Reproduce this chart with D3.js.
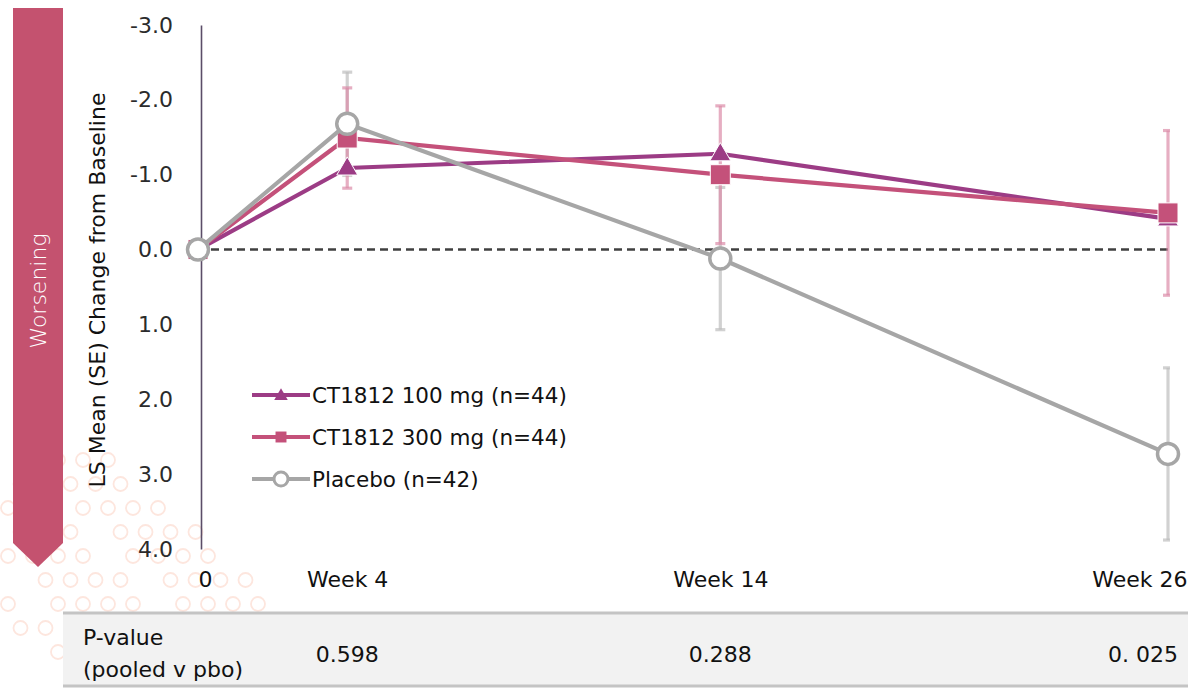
<!DOCTYPE html>
<html>
<head>
<meta charset="utf-8">
<script src="https://cdn.jsdelivr.net/npm/d3@7"></script>
<style>
  html, body { margin: 0; padding: 0; background: #fff; }
  svg { display: block; font-family: "DejaVu Sans", "Liberation Sans", sans-serif; }
</style>
</head>
<body>
<div id="chart"></div>
<script>
const weeks = [0, 4, 14, 26];
const weekLabels = ["0", "Week 4", "Week 14", "Week 26"];
const yTicks = [-3, -2, -1, 0, 1, 2, 3, 4];

const seriesNames = ["CT1812 100 mg (n=44)", "CT1812 300 mg (n=44)", "Placebo (n=42)"];
const mean100 = [0, -1.09, -1.28, -0.41];
const mean300 = [0, -1.49, -1.0, -0.49];
const meanPbo = [0, -1.68, 0.12, 2.73];
const se300 = [0, 0.67, 0.92, 1.1];
const sePbo = [0, 0.69, 0.95, 1.15];

const pValues = ["0.598", "0.288", "0. 025"];

const width = 1188, height = 688;
const purple = "#9c3c85", pink = "#c4517a", gray = "#a6a6a6";
const FONT = '"DejaVu Sans", "Liberation Sans", sans-serif';

const svg = d3.select("#chart").append("svg")
  .attr("width", width).attr("height", height);

// decorative ring pattern, bottom left
const deco = svg.append("g").attr("fill", "none").attr("stroke", "#fde6de").attr("stroke-width", 1.8);
for (let r = 0; r < 10; r++) {
  for (let c = 0; c < 12; c++) {
    const cx = 8 + c * 25 + (r % 2) * 12.5;
    const cy = 460 + r * 24;
    const d = cx - (cy - 460) * 1.3;   // position across the diagonal band
    if (cy > 690 || cx > 270 || d < -200 || d > 110) continue;
    if ((r * 7 + c * 3) % 5 === 0) continue;   // thin the grid out a little
    deco.append("circle").attr("cx", cx).attr("cy", cy).attr("r", 7);
  }
}

// Worsening arrow
svg.append("path")
  .attr("d", "M13,8 H63 V543 L38,567 L13,543 Z")
  .attr("fill", "#c4526f");
svg.append("text")
  .attr("transform", "translate(46,291) rotate(-90)")
  .attr("text-anchor", "middle")
  .attr("fill", "#fff")
  .style("font-size", "22px")
  .style("font-weight", 200)
  .text("Worsening");

const x = d3.scaleLinear().domain([0, 26]).range([198, 1168]);
const y = d3.scaleLinear().domain([-3, 4]).range([25, 549]);

// y axis
const yAxis = svg.append("g")
  .attr("transform", "translate(201,0)")
  .call(d3.axisLeft(y).tickValues(yTicks).tickSize(0).tickPadding(28)
    .tickFormat(d => d.toFixed(1)));
yAxis.select(".domain").attr("stroke", "#5b4d68").attr("stroke-width", 1.6);
yAxis.selectAll("text").attr("fill", "#2b2b2b").style("font-size", "22px")
  .style("font-family", FONT);

svg.append("text")
  .attr("transform", "translate(105,290) rotate(-90)")
  .attr("text-anchor", "middle")
  .attr("fill", "#111")
  .style("font-size", "22px")
  .text("LS Mean (SE) Change from Baseline");

// x axis labels
const xAxis = svg.append("g")
  .attr("transform", "translate(0,566)")
  .call(d3.axisBottom(x).tickValues(weeks).tickSize(0).tickPadding(5)
    .tickFormat((d, i) => weekLabels[i]));
xAxis.select(".domain").remove();
xAxis.selectAll("text").attr("fill", "#111").style("font-size", "22px")
  .style("font-family", FONT);
xAxis.selectAll(".tick").filter(d => d === 0).select("text").attr("x", 7);
xAxis.selectAll(".tick").filter(d => d === 26).select("text")
  .attr("text-anchor", "end").attr("x", 19);

// zero reference line
svg.append("line")
  .attr("x1", x(0)).attr("x2", x(26))
  .attr("y1", y(0)).attr("y2", y(0))
  .attr("stroke", "#404040").attr("stroke-width", 2.6)
  .attr("stroke-dasharray", "8,5");

// error bars, clipped at the plot edge
svg.append("clipPath").attr("id", "plotclip")
  .append("rect").attr("x", 150).attr("y", 0).attr("width", 1170 - 150).attr("height", 600);
const eb = svg.append("g").attr("clip-path", "url(#plotclip)");

function errorBars(means, ses, color) {
  const rows = weeks.map((w, i) => ({ w, m: means[i], s: ses[i] })).filter(d => d.s > 0);
  const g = eb.append("g").attr("stroke", color).attr("stroke-width", 3.2);
  g.selectAll("line.v").data(rows).join("line")
    .attr("x1", d => x(d.w)).attr("x2", d => x(d.w))
    .attr("y1", d => y(d.m - d.s)).attr("y2", d => y(d.m + d.s));
  ["-", "+"].forEach(sign => {
    g.selectAll("line.c" + (sign === "-" ? "a" : "b")).data(rows).join("line")
      .attr("x1", d => x(d.w) - 5).attr("x2", d => x(d.w) + 5)
      .attr("y1", d => y(sign === "-" ? d.m - d.s : d.m + d.s))
      .attr("y2", d => y(sign === "-" ? d.m - d.s : d.m + d.s));
  });
}
errorBars(meanPbo, sePbo, "rgba(190,190,190,0.7)");
errorBars(mean300, se300, "rgba(220,140,168,0.7)");

const line = d3.line().x((d, i) => x(weeks[i])).y(d => y(d));

const triangle = d3.symbol().type(d3.symbolTriangle);
const square = d3.symbol().type(d3.symbolSquare);

function drawSeries(means, color, marker) {
  svg.append("path").datum(means)
    .attr("d", line).attr("fill", "none")
    .attr("stroke", color).attr("stroke-width", 4.2);
  const pts = svg.append("g").selectAll("g").data(means).join("g")
    .attr("transform", (d, i) => `translate(${x(weeks[i])},${y(d)})`);
  marker(pts);
}

drawSeries(mean100, purple, g => g.append("path")
  .attr("d", triangle.size(190)()).attr("transform", "translate(0,1)")
  .attr("fill", purple).attr("stroke", "#fff").attr("stroke-width", 1));
drawSeries(mean300, pink, g => g.append("path")
  .attr("d", square.size(400)())
  .attr("fill", pink).attr("stroke", "#fff").attr("stroke-width", 1));
drawSeries(meanPbo, gray, g => g.append("circle")
  .attr("r", 10.5).attr("fill", "#fff").attr("stroke", gray).attr("stroke-width", 3.5));

// legend
const legend = svg.append("g").attr("transform", "translate(252,395)");
const legendColors = [purple, pink, gray];
seriesNames.forEach((name, i) => {
  const row = legend.append("g").attr("transform", `translate(0,${i * 42})`);
  row.append("line").attr("x1", 0).attr("x2", 58).attr("stroke", legendColors[i])
    .attr("stroke-width", 4.2);
  if (i === 0) {
    row.append("path").attr("d", d3.symbol().type(d3.symbolTriangle).size(80)())
      .attr("transform", "translate(29,1)").attr("fill", purple);
  } else if (i === 1) {
    row.append("path").attr("d", d3.symbol().type(d3.symbolSquare).size(120)())
      .attr("transform", "translate(29,0)").attr("fill", pink);
  } else {
    row.append("circle").attr("cx", 29).attr("r", 7).attr("fill", "#fff")
      .attr("stroke", gray).attr("stroke-width", 3);
  }
  row.append("text").attr("x", 60).attr("dy", "0.35em")
    .attr("fill", "#111").style("font-size", "21.5px").text(name);
});

// p-value table
const table = svg.append("g");
table.append("rect").attr("x", 63).attr("y", 613).attr("width", width - 63).attr("height", 73)
  .attr("fill", "#f2f2f2");
[613, 686].forEach(yy => table.append("line")
  .attr("x1", 63).attr("x2", width).attr("y1", yy).attr("y2", yy)
  .attr("stroke", "#c4c4c4").attr("stroke-width", 3));
table.append("text").attr("x", 83).attr("y", 637).attr("dy", "0.35em")
  .attr("fill", "#111").style("font-size", "22px").text("P-value");
table.append("text").attr("x", 83).attr("y", 669).attr("dy", "0.35em")
  .attr("fill", "#111").style("font-size", "22px").text("(pooled v pbo)");
table.selectAll("text.p").data(pValues).join("text")
  .attr("class", "p")
  .attr("x", (d, i) => i === 2 ? 1178 : x(weeks[i + 1]))
  .attr("y", 654).attr("dy", "0.35em")
  .attr("text-anchor", (d, i) => i === 2 ? "end" : "middle")
  .attr("fill", "#111").style("font-size", "22px").text(d => d);
</script>
</body>
</html>
